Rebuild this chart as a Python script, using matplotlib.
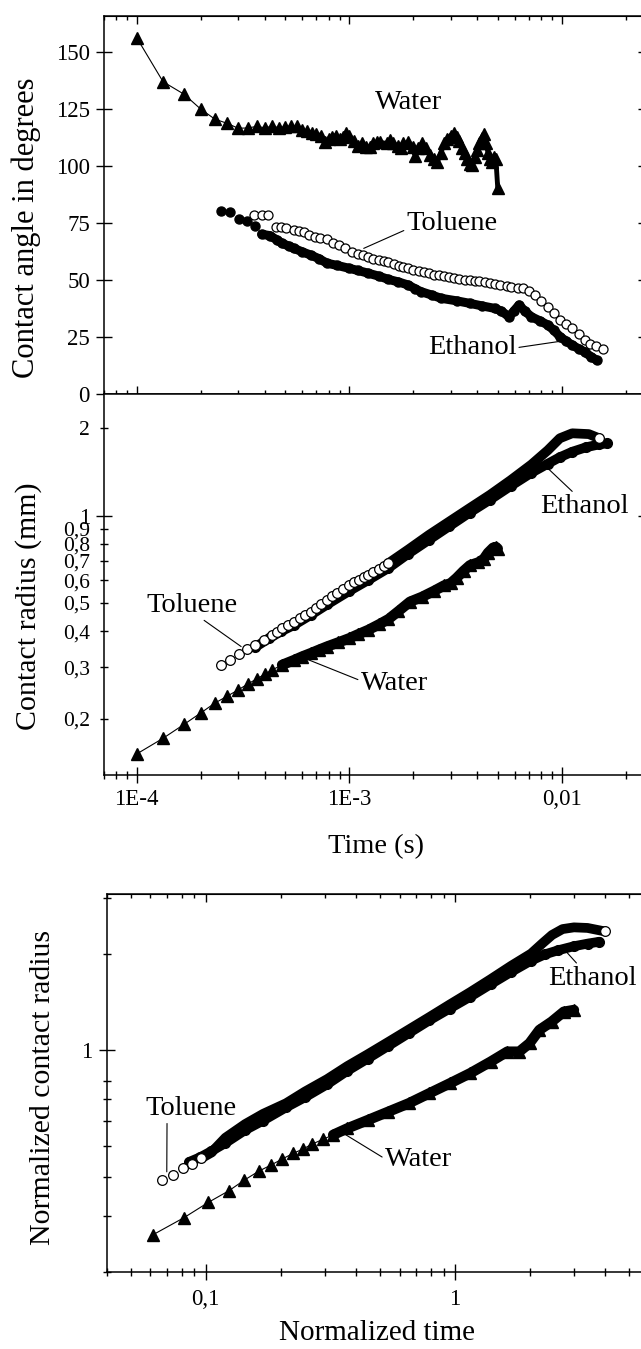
import matplotlib
matplotlib.use('Agg')
import matplotlib.pyplot as plt
from matplotlib.ticker import NullFormatter

plt.rcParams['font.family'] = ['Liberation Serif', 'DejaVu Serif']

### ==============================================
### data
### ==============================================

# panel 1: contact angle (degrees) vs time (s)
water_t1 = [1.00e-4, 1.33e-4, 1.67e-4, 2.00e-4, 2.33e-4, 2.67e-4, 3.00e-4, 3.33e-4, 3.67e-4,
            4.00e-4, 4.33e-4, 4.67e-4, 5.00e-4, 5.33e-4, 5.67e-4, 6.00e-4, 6.33e-4, 6.67e-4,
            7.00e-4, 7.33e-4, 7.67e-4, 8.00e-4, 8.33e-4, 8.67e-4, 9.00e-4, 9.33e-4, 9.67e-4,
            1.00e-3, 1.05e-3, 1.10e-3, 1.15e-3, 1.20e-3, 1.25e-3, 1.30e-3, 1.35e-3, 1.40e-3,
            1.50e-3, 1.55e-3, 1.60e-3, 1.70e-3, 1.75e-3, 1.80e-3, 1.90e-3, 2.00e-3, 2.05e-3,
            2.10e-3, 2.20e-3, 2.30e-3, 2.40e-3, 2.50e-3, 2.60e-3, 2.70e-3, 2.80e-3, 2.90e-3,
            3.00e-3, 3.10e-3, 3.20e-3, 3.30e-3, 3.40e-3, 3.50e-3, 3.60e-3, 3.70e-3, 3.80e-3,
            3.90e-3, 4.00e-3, 4.10e-3, 4.20e-3, 4.30e-3, 4.40e-3, 4.50e-3, 4.60e-3, 4.70e-3,
            4.80e-3, 4.90e-3, 5.00e-3]
water_angle = [156.4, 137.1, 131.6, 125.1, 120.7, 118.8, 116.7, 116.8, 117.5,
               116.9, 117.5, 117.0, 117.3, 117.8, 117.5, 116.0, 115.5, 114.5,
               114.0, 113.5, 110.5, 112.0, 113.0, 113.5, 112.0, 113.0, 114.5,
               113.5, 111.0, 109.0, 110.0, 108.5, 108.5, 110.0, 110.5, 110.5,
               110.0, 111.5, 110.0, 109.0, 108.0, 110.0, 110.5, 108.5, 104.5,
               108.0, 110.0, 108.0, 105.0, 103.0, 102.0, 106.0, 110.0, 112.0,
               113.5, 114.5, 113.0, 111.0, 108.0, 106.0, 103.0, 101.0, 100.5,
               104.0, 107.0, 110.0, 112.5, 114.0, 110.0, 106.0, 103.0, 102.0,
               104.0, 103.0, 90.3]

ethanol_t1 = [2.49e-4, 2.75e-4, 3.04e-4, 3.31e-4, 3.62e-4, 3.87e-4, 4.23e-4, 4.55e-4, 4.83e-4,
              5.20e-4, 5.50e-4, 6.00e-4, 6.58e-4, 7.20e-4, 7.86e-4, 8.80e-4, 9.95e-4, 1.10e-3,
              1.23e-3, 1.38e-3, 1.53e-3, 1.70e-3, 1.90e-3, 2.05e-3, 2.18e-3, 2.45e-3, 2.71e-3,
              3.20e-3, 3.69e-3, 4.20e-3, 4.83e-3, 5.20e-3, 5.65e-3, 5.95e-3, 6.30e-3, 6.70e-3,
              7.20e-3, 7.90e-3, 8.60e-3, 9.20e-3, 9.80e-3, 1.05e-2, 1.12e-2, 1.20e-2, 1.28e-2,
              1.37e-2, 1.46e-2]
ethanol_angle = [80.5, 79.8, 76.9, 76.0, 73.8, 70.2, 69.6, 67.8, 66.2,
                 65.0, 64.0, 62.5, 61.1, 59.5, 57.5, 56.5, 55.3, 54.3,
                 53.1, 51.8, 50.4, 49.3, 47.9, 46.2, 45.0, 43.5, 42.1,
                 41.0, 39.9, 38.8, 37.7, 36.5, 34.0, 36.5, 39.2, 36.5,
                 34.0, 32.2, 30.4, 28.0, 25.3, 23.3, 21.6, 20.0, 18.7,
                 16.5, 15.0]

toluene_t1 = [3.55e-4, 3.87e-4, 4.14e-4, 4.52e-4, 4.75e-4, 5.04e-4, 5.50e-4, 5.80e-4, 6.15e-4,
              6.50e-4, 6.88e-4, 7.30e-4, 7.86e-4, 8.40e-4, 8.97e-4, 9.60e-4, 1.03e-3, 1.10e-3,
              1.16e-3, 1.23e-3, 1.30e-3, 1.38e-3, 1.45e-3, 1.53e-3, 1.62e-3, 1.71e-3, 1.80e-3,
              1.90e-3, 2.00e-3, 2.12e-3, 2.24e-3, 2.37e-3, 2.50e-3, 2.65e-3, 2.80e-3, 2.96e-3,
              3.12e-3, 3.30e-3, 3.50e-3, 3.69e-3, 3.90e-3, 4.10e-3, 4.35e-3, 4.60e-3, 4.85e-3,
              5.15e-3, 5.50e-3, 5.80e-3, 6.20e-3, 6.60e-3, 7.00e-3, 7.50e-3, 8.00e-3, 8.60e-3,
              9.20e-3, 9.80e-3, 1.05e-2, 1.12e-2, 1.20e-2, 1.28e-2, 1.36e-2, 1.45e-2, 1.56e-2]
toluene_angle = [78.6, 78.6, 78.6, 73.5, 73.3, 73.0, 72.0, 71.6, 71.3,
                 70.0, 69.1, 68.5, 68.0, 66.5, 65.5, 64.0, 62.5, 61.5,
                 61.0, 60.3, 59.5, 59.0, 58.5, 58.1, 57.2, 56.3, 56.0,
                 55.3, 54.6, 54.0, 53.6, 53.1, 52.5, 52.2, 51.8, 51.6,
                 51.0, 50.6, 50.3, 50.1, 49.8, 49.5, 49.2, 49.0, 48.3,
                 47.8, 47.5, 47.2, 46.8, 46.5, 45.5, 43.6, 41.0, 38.4,
                 35.5, 32.6, 30.8, 29.0, 26.5, 23.8, 22.0, 21.0, 19.7]

# panel 2: contact radius (mm) vs time (s)
water_t2 = [1.00e-4, 1.33e-4, 1.67e-4, 2.00e-4, 2.33e-4, 2.67e-4, 3.00e-4, 3.33e-4, 3.67e-4,
            4.00e-4, 4.33e-4, 4.83e-4, 5.50e-4, 6.00e-4, 6.60e-4, 7.20e-4, 7.86e-4, 8.90e-4,
            1.00e-3, 1.10e-3, 1.23e-3, 1.38e-3, 1.53e-3, 1.70e-3, 1.93e-3, 2.20e-3, 2.50e-3,
            2.80e-3, 3.00e-3, 3.20e-3, 3.45e-3, 3.70e-3, 4.05e-3, 4.30e-3, 4.50e-3, 4.75e-3,
            4.90e-3, 5.00e-3]
water_r = [0.151, 0.171, 0.191, 0.209, 0.226, 0.239, 0.251, 0.263, 0.274,
           0.284, 0.294, 0.306, 0.318, 0.327, 0.336, 0.345, 0.354, 0.366,
           0.378, 0.390, 0.404, 0.422, 0.440, 0.468, 0.505, 0.525, 0.550,
           0.575, 0.585, 0.610, 0.645, 0.675, 0.690, 0.710, 0.745, 0.775,
           0.780, 0.770]

ethanol_t2 = [3.60e-4, 4.20e-4, 4.80e-4, 5.50e-4, 6.60e-4, 7.90e-4, 1.00e-3, 1.23e-3, 1.53e-3,
              1.90e-3, 2.37e-3, 2.96e-3, 3.69e-3, 4.60e-3, 5.75e-3, 7.20e-3, 8.60e-3, 9.80e-3,
              1.12e-2, 1.30e-2, 1.50e-2, 1.63e-2]
ethanol_r = [0.352, 0.378, 0.400, 0.420, 0.455, 0.495, 0.550, 0.600, 0.660,
             0.740, 0.825, 0.920, 1.025, 1.135, 1.265, 1.405, 1.510, 1.590,
             1.660, 1.720, 1.760, 1.775]

toluene_t2 = [2.49e-4, 2.75e-4, 3.04e-4, 3.31e-4, 3.62e-4, 3.96e-4, 4.32e-4, 4.55e-4, 4.83e-4,
              5.15e-4, 5.50e-4, 5.85e-4, 6.20e-4, 6.58e-4, 7.00e-4, 7.40e-4, 7.86e-4, 8.30e-4,
              8.80e-4, 9.35e-4, 9.95e-4, 1.05e-3, 1.11e-3, 1.17e-3, 1.23e-3, 1.30e-3, 1.38e-3,
              1.45e-3, 1.53e-3, 1.90e-3, 2.37e-3, 2.96e-3, 3.69e-3, 4.60e-3, 5.75e-3, 7.20e-3,
              8.60e-3, 9.80e-3, 1.12e-2, 1.34e-2, 1.50e-2]
toluene_r = [0.306, 0.317, 0.333, 0.347, 0.359, 0.373, 0.388, 0.398, 0.409,
             0.420, 0.431, 0.443, 0.455, 0.467, 0.482, 0.496, 0.512, 0.527,
             0.543, 0.560, 0.577, 0.590, 0.602, 0.614, 0.625, 0.640, 0.655,
             0.670, 0.686, 0.765, 0.858, 0.955, 1.062, 1.180, 1.325, 1.500,
             1.680, 1.848, 1.922, 1.910, 1.848]

# panel 3: normalized contact radius vs normalized time
water_tn = [0.0612, 0.0818, 0.1026, 0.1239, 0.143, 0.1633, 0.183, 0.2025, 0.2241,
            0.2465, 0.2658, 0.2955, 0.3245, 0.370, 0.447, 0.541, 0.653, 0.789,
            0.952, 1.15, 1.39, 1.62, 1.81, 1.99, 2.18, 2.44, 2.73, 3.0]
water_rn = [0.262, 0.297, 0.332, 0.361, 0.390, 0.416, 0.435, 0.454, 0.473,
            0.489, 0.505, 0.524, 0.541, 0.567, 0.602, 0.640, 0.680, 0.731,
            0.785, 0.845, 0.919, 0.988, 0.988, 1.050, 1.156, 1.227, 1.319, 1.336]

ethanol_tn = [0.086, 0.095, 0.105, 0.12, 0.144, 0.17, 0.21, 0.25, 0.307,
              0.37, 0.447, 0.54, 0.653, 0.79, 0.952, 1.15, 1.39, 1.68,
              2.02, 2.3, 2.6, 3.0, 3.4, 3.79]
ethanol_rn = [0.445, 0.46, 0.48, 0.51, 0.56, 0.60, 0.66, 0.71, 0.78,
              0.86, 0.94, 1.03, 1.13, 1.24, 1.35, 1.47, 1.61, 1.76,
              1.91, 2.00, 2.06, 2.12, 2.16, 2.19]

toluene_tn = [0.0665, 0.0736, 0.0812, 0.0883, 0.0958, 0.105, 0.12, 0.144, 0.17,
              0.21, 0.25, 0.307, 0.37, 0.447, 0.54, 0.653, 0.79, 0.952,
              1.15, 1.39, 1.68, 2.02, 2.25, 2.45, 2.7, 3.0, 3.4, 3.99]
toluene_rn = [0.390, 0.405, 0.427, 0.438, 0.456, 0.475, 0.53, 0.585, 0.63,
              0.68, 0.74, 0.81, 0.89, 0.97, 1.06, 1.16, 1.27, 1.39,
              1.52, 1.67, 1.84, 2.01, 2.17, 2.30, 2.40, 2.43, 2.42, 2.36]

### ==============================================
### figure layout (pixel boxes of the three panels)
### ==============================================

W, H = 641, 1349
fig = plt.figure(figsize=(W / 100, H / 100), dpi=100)


def add_axes_px(x0, y0, x1, y1):
    return fig.add_axes([x0 / W, 1 - y1 / H, (x1 - x0) / W, (y1 - y0) / H])


ax1 = add_axes_px(103.8, 15.7, 646.3, 394.3)
ax2 = add_axes_px(103.8, 394.3, 646.3, 775.0)
ax3 = add_axes_px(106.5, 894.0, 649.0, 1272.3)

band = dict(color='k', solid_capstyle='round', solid_joinstyle='round')
open_mk = dict(ls='none', marker='o', mfc='white', mec='k', mew=0.9)

### panel 1
ax1.plot(water_t1, water_angle, '-', color='k', lw=0.8, marker='^', ms=8, zorder=3)
ax1.plot(water_t1[16:], water_angle[16:], lw=3.5, zorder=3, **band)
ax1.plot(ethanol_t1[5:], ethanol_angle[5:], lw=6.5, zorder=2, **band)
ax1.plot(ethanol_t1, ethanol_angle, 'o', color='k', ms=6.5, zorder=2)
ax1.plot(toluene_t1, toluene_angle, ms=6.5, zorder=4, **open_mk)

### panel 2
ax2.plot(water_t2, water_r, '-', color='k', lw=0.8, marker='^', ms=8, zorder=3)
ax2.plot(water_t2[11:], water_r[11:], lw=7.5, zorder=3, **band)
ax2.plot(ethanol_t2, ethanol_r, lw=7, zorder=2, **band)
ax2.plot(ethanol_t2, ethanol_r, 'o', color='k', ms=7, zorder=2)
ax2.plot(toluene_t2[28:], toluene_r[28:], lw=7, zorder=4, **band)
ax2.plot(toluene_t2[:29], toluene_r[:29], ms=7, zorder=5, **open_mk)
ax2.plot(toluene_t2[-1:], toluene_r[-1:], ms=7, zorder=5, **open_mk)

### panel 3
ax3.plot(water_tn, water_rn, '-', color='k', lw=0.8, marker='^', ms=8, zorder=3)
ax3.plot(water_tn[12:], water_rn[12:], lw=7.5, zorder=3, **band)
ax3.plot(ethanol_tn, ethanol_rn, lw=7, zorder=2, **band)
ax3.plot(ethanol_tn, ethanol_rn, 'o', color='k', ms=7, zorder=2)
ax3.plot(toluene_tn[4:], toluene_rn[4:], lw=7, zorder=4, **band)
ax3.plot(toluene_tn[:5], toluene_rn[:5], ms=7, zorder=5, **open_mk)
ax3.plot(toluene_tn[-1:], toluene_rn[-1:], ms=7, zorder=5, **open_mk)

### ==============================================
### axes, ticks
### ==============================================

TICK_FS = 16.5
angle_ticks = [0, 25, 50, 75, 100, 125, 150]
r_minor = [0.2, 0.3, 0.4, 0.5, 0.6, 0.7, 0.8, 0.9, 2]
r_minor_lbl = ['0,2', '0,3', '0,4', '0,5', '0,6', '0,7', '0,8', '0,9', '2']
rn_minor = [0.2, 0.3, 0.4, 0.5, 0.6, 0.7, 0.8, 2, 3]

for ax in (ax1, ax2, ax3):
    for s in ax.spines.values():
        s.set_linewidth(1.1)
    ax.tick_params(which='both', direction='inout', top=False, right=False,
                   width=1.0, labelsize=TICK_FS)
    ax.tick_params(which='major', length=12)
    ax.tick_params(which='minor', length=6)

ax1.set_xscale('log')
ax1.set_xlim(7e-5, 0.025)
ax1.set_ylim(0, 166.05)
ax1.set_yticks(angle_ticks)
ax1.xaxis.set_minor_formatter(NullFormatter())
ax1.tick_params(axis='x', labelbottom=False)
ax1.tick_params(axis='y', pad=4)

ax2.set_xscale('log')
ax2.set_yscale('log')
ax2.set_xlim(7e-5, 0.025)
ax2.set_ylim(0.1278, 2.619)
ax2.set_xticks([1e-4, 1e-3, 1e-2], ['1E-4', '1E-3', '0,01'])
ax2.xaxis.set_minor_formatter(NullFormatter())
ax2.set_yticks([1], ['1'])
ax2.set_yticks(r_minor, r_minor_lbl, minor=True)
ax2.tick_params(axis='y', which='major', pad=4)
ax2.tick_params(axis='y', which='minor', pad=7, labelsize=15.5)
ax2.tick_params(axis='x', which='major', pad=4)

ax3.set_xscale('log')
ax3.set_yscale('log')
ax3.set_xlim(0.04, 6)
ax3.set_ylim(0.2, 3.094)
ax3.set_xticks([0.1, 1], ['0,1', '1'])
ax3.xaxis.set_minor_formatter(NullFormatter())
ax3.set_yticks([1], ['1'])
ax3.set_yticks(rn_minor, minor=True)
ax3.yaxis.set_minor_formatter(NullFormatter())
ax3.tick_params(axis='y', which='major', pad=4)
ax3.tick_params(axis='x', which='major', pad=6)

# inward ticks on the top and right sides
for ax, do_top in ((ax1, True), (ax2, False), (ax3, True)):
    if do_top:
        sx = ax.secondary_xaxis('top')
        sx.xaxis.set_minor_formatter(NullFormatter())
        sx.tick_params(which='both', direction='in', width=1.0, labeltop=False)
        sx.tick_params(which='major', length=6)
        sx.tick_params(which='minor', length=3)
    sy = ax.secondary_yaxis('right')
    sy.set_yticks(ax.get_yticks())
    sy.set_yticks(ax.get_yticks(minor=True), minor=True)
    sy.yaxis.set_major_formatter(NullFormatter())
    sy.yaxis.set_minor_formatter(NullFormatter())
    sy.tick_params(which='both', direction='in', width=1.0, labelright=False)
    sy.tick_params(which='major', length=6)
    sy.tick_params(which='minor', length=3)

### ==============================================
### labels and annotations
### ==============================================

def ftext(x, y, s, **kw):
    fig.text(x / W, 1 - y / H, s, ha='center', va='center', **kw)


ftext(26.6, 228, 'Contact angle in degrees', rotation=90, fontsize=22)
ftext(28.6, 606, 'Contact radius (mm)', rotation=90, fontsize=21.5)
ftext(43, 1087, 'Normalized contact radius', rotation=90, fontsize=21.5)
ftext(376, 847, 'Time (s)', fontsize=20.5)
ftext(377, 1333, 'Normalized time', fontsize=21)

LBL_FS = 20.5


def label(ax, s, xytext, xy=None, relpos=(0.5, 0.5), ha='center'):
    if xy is None:
        ax.text(xytext[0], xytext[1], s, ha=ha, va='center', fontsize=LBL_FS)
        return
    ax.annotate(s, xy=xy, xytext=xytext, ha=ha, va='center', fontsize=LBL_FS,
                annotation_clip=False,
                arrowprops=dict(arrowstyle='-', lw=0.8, color='k', shrinkA=0,
                                shrinkB=0, relpos=relpos))


label(ax1, 'Water', (1.91e-3, 127.8))
label(ax1, 'Toluene', (3.05e-3, 75.1), (1.17e-3, 64.0), relpos=(0, 0.25))
label(ax1, 'Ethanol', (3.78e-3, 20.4), (9.6e-3, 23.1), relpos=(1, 0.5))

label(ax2, 'Toluene', (1.82e-4, 0.492), (3.1e-4, 0.354), relpos=(0.59, 0))
label(ax2, 'Water', (1.63e-3, 0.2647), (6.17e-4, 0.3226), relpos=(0, 0.6))
label(ax2, 'Ethanol', (7.88e-3, 1.074), (8.6e-3, 1.456), relpos=(0.4, 1), ha='left')

label(ax3, 'Toluene', (0.0873, 0.656), (0.0698, 0.414), relpos=(0.237, 0))
label(ax3, 'Water', (0.714, 0.451), (0.3567, 0.547), relpos=(0, 0.55))
label(ax3, 'Ethanol', (2.36, 1.681), (2.79, 2.04), relpos=(0.35, 1), ha='left')

fig.savefig('out.png', dpi=100)
